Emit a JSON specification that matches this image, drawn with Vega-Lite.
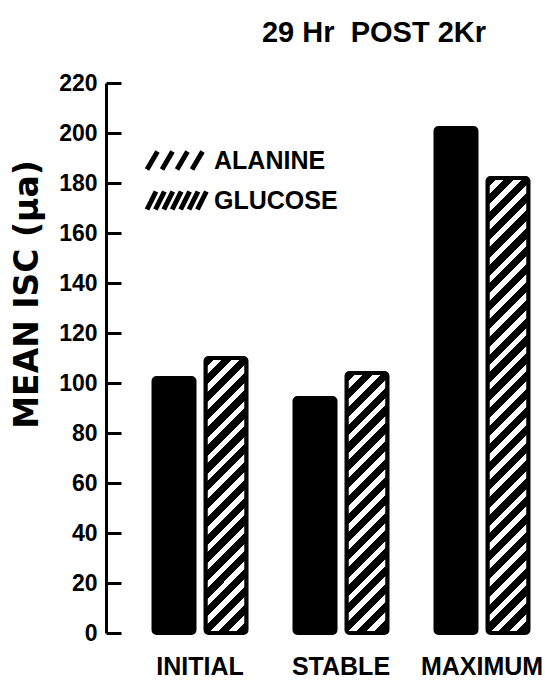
{
  "$schema": "https://vega.github.io/schema/vega-lite/v6.json",
  "autosize": "none",
  "width": 406,
  "height": 550,
  "padding": {"left": 138, "top": 83, "right": 1, "bottom": 49},
  "background": "white",
  "title": {
    "text": "29 Hr\u00a0 POST 2Kr",
    "font": "Liberation Sans",
    "fontSize": 29,
    "fontWeight": "bold",
    "color": "black",
    "anchor": "middle",
    "dx": 33,
    "offset": 24
  },
  "config": {
    "view": {"stroke": null}
  },
  "data": {
    "values": [
      {"stage": "INITIAL", "substrate": "GLUCOSE", "isc": 102},
      {"stage": "INITIAL", "substrate": "ALANINE", "isc": 110},
      {"stage": "STABLE", "substrate": "GLUCOSE", "isc": 94},
      {"stage": "STABLE", "substrate": "ALANINE", "isc": 104},
      {"stage": "MAXIMUM", "substrate": "GLUCOSE", "isc": 202},
      {"stage": "MAXIMUM", "substrate": "ALANINE", "isc": 182}
    ]
  },
  "encoding": {
    "x": {
      "field": "stage",
      "type": "nominal",
      "sort": ["INITIAL", "STABLE", "MAXIMUM"],
      "scale": {"paddingInner": 0.3404, "paddingOuter": 0.11},
      "axis": {
        "title": null,
        "domain": false,
        "ticks": false,
        "labelAngle": 0,
        "labelPadding": 21,
        "labelFont": "Liberation Sans",
        "labelFontSize": 25,
        "labelFontWeight": "bold",
        "labelColor": "black",
        "labelBaseline": "top"
      }
    },
    "xOffset": {
      "field": "substrate",
      "type": "nominal",
      "sort": ["GLUCOSE", "ALANINE"],
      "scale": {"paddingInner": 0.2115, "paddingOuter": 0}
    },
    "y": {
      "field": "isc",
      "type": "quantitative",
      "scale": {"domain": [0, 220], "nice": false},
      "axis": {
        "title": "MEAN ISC (μa)",
        "titleFont": "DejaVu Sans",
        "titleFontSize": 33,
        "titleFontWeight": "bold",
        "titleColor": "black",
        "titleAngle": -90,
        "titleAlign": "center",
        "titleBaseline": "middle",
        "titleX": -79,
        "titleY": 211,
        "values": [0, 20, 40, 60, 80, 100, 120, 140, 160, 180, 200, 220],
        "offset": 32,
        "grid": false,
        "domainColor": "black",
        "domainWidth": 3,
        "tickColor": "black",
        "tickWidth": 3,
        "tickSize": -15,
        "labelPadding": 24,
        "labelFont": "Liberation Sans",
        "labelFontSize": 23,
        "labelFontWeight": "bold",
        "labelColor": "black"
      }
    }
  },
  "layer": [
    {
      "mark": {"type": "bar", "strokeWidth": 4, "cornerRadius": 3, "stroke": "black"},
      "encoding": {
        "fill": {
          "condition": [
            {"test": "datum.substrate === 'GLUCOSE'", "value": "black"},
            {"test": "datum.stage === 'INITIAL'", "value": {"gradient": "linear", "x1": 0, "y1": 0, "x2": 0.2652, "y2": 1.7786, "stops": [
              {"offset": 0, "color": "black"},
              {"offset": 0.0207, "color": "black"}, {"offset": 0.0207, "color": "white"}, {"offset": 0.0357, "color": "white"}, {"offset": 0.0357, "color": "black"},
              {"offset": 0.0564, "color": "black"}, {"offset": 0.0564, "color": "white"}, {"offset": 0.0714, "color": "white"}, {"offset": 0.0714, "color": "black"},
              {"offset": 0.0921, "color": "black"}, {"offset": 0.0921, "color": "white"}, {"offset": 0.1071, "color": "white"}, {"offset": 0.1071, "color": "black"},
              {"offset": 0.1279, "color": "black"}, {"offset": 0.1279, "color": "white"}, {"offset": 0.1429, "color": "white"}, {"offset": 0.1429, "color": "black"},
              {"offset": 0.1636, "color": "black"}, {"offset": 0.1636, "color": "white"}, {"offset": 0.1786, "color": "white"}, {"offset": 0.1786, "color": "black"},
              {"offset": 0.1993, "color": "black"}, {"offset": 0.1993, "color": "white"}, {"offset": 0.2143, "color": "white"}, {"offset": 0.2143, "color": "black"},
              {"offset": 0.2350, "color": "black"}, {"offset": 0.2350, "color": "white"}, {"offset": 0.2500, "color": "white"}, {"offset": 0.2500, "color": "black"},
              {"offset": 0.2707, "color": "black"}, {"offset": 0.2707, "color": "white"}, {"offset": 0.2857, "color": "white"}, {"offset": 0.2857, "color": "black"},
              {"offset": 0.3064, "color": "black"}, {"offset": 0.3064, "color": "white"}, {"offset": 0.3214, "color": "white"}, {"offset": 0.3214, "color": "black"},
              {"offset": 0.3421, "color": "black"}, {"offset": 0.3421, "color": "white"}, {"offset": 0.3571, "color": "white"}, {"offset": 0.3571, "color": "black"},
              {"offset": 0.3779, "color": "black"}, {"offset": 0.3779, "color": "white"}, {"offset": 0.3929, "color": "white"}, {"offset": 0.3929, "color": "black"},
              {"offset": 0.4136, "color": "black"}, {"offset": 0.4136, "color": "white"}, {"offset": 0.4286, "color": "white"}, {"offset": 0.4286, "color": "black"},
              {"offset": 0.4493, "color": "black"}, {"offset": 0.4493, "color": "white"}, {"offset": 0.4643, "color": "white"}, {"offset": 0.4643, "color": "black"},
              {"offset": 0.4850, "color": "black"}, {"offset": 0.4850, "color": "white"}, {"offset": 0.5000, "color": "white"}, {"offset": 0.5000, "color": "black"},
              {"offset": 0.5207, "color": "black"}, {"offset": 0.5207, "color": "white"}, {"offset": 0.5357, "color": "white"}, {"offset": 0.5357, "color": "black"},
              {"offset": 0.5564, "color": "black"}, {"offset": 0.5564, "color": "white"}, {"offset": 0.5714, "color": "white"}, {"offset": 0.5714, "color": "black"},
              {"offset": 0.5921, "color": "black"}, {"offset": 0.5921, "color": "white"}, {"offset": 0.6071, "color": "white"}, {"offset": 0.6071, "color": "black"},
              {"offset": 0.6279, "color": "black"}, {"offset": 0.6279, "color": "white"}, {"offset": 0.6429, "color": "white"}, {"offset": 0.6429, "color": "black"},
              {"offset": 1, "color": "black"}
            ]}},
            {"test": "datum.stage === 'STABLE'", "value": {"gradient": "linear", "x1": 0, "y1": 0, "x2": 0.2959, "y2": 1.8764, "stops": [
              {"offset": 0, "color": "black"},
              {"offset": 0.0207, "color": "black"}, {"offset": 0.0207, "color": "white"}, {"offset": 0.0357, "color": "white"}, {"offset": 0.0357, "color": "black"},
              {"offset": 0.0564, "color": "black"}, {"offset": 0.0564, "color": "white"}, {"offset": 0.0714, "color": "white"}, {"offset": 0.0714, "color": "black"},
              {"offset": 0.0921, "color": "black"}, {"offset": 0.0921, "color": "white"}, {"offset": 0.1071, "color": "white"}, {"offset": 0.1071, "color": "black"},
              {"offset": 0.1279, "color": "black"}, {"offset": 0.1279, "color": "white"}, {"offset": 0.1429, "color": "white"}, {"offset": 0.1429, "color": "black"},
              {"offset": 0.1636, "color": "black"}, {"offset": 0.1636, "color": "white"}, {"offset": 0.1786, "color": "white"}, {"offset": 0.1786, "color": "black"},
              {"offset": 0.1993, "color": "black"}, {"offset": 0.1993, "color": "white"}, {"offset": 0.2143, "color": "white"}, {"offset": 0.2143, "color": "black"},
              {"offset": 0.2350, "color": "black"}, {"offset": 0.2350, "color": "white"}, {"offset": 0.2500, "color": "white"}, {"offset": 0.2500, "color": "black"},
              {"offset": 0.2707, "color": "black"}, {"offset": 0.2707, "color": "white"}, {"offset": 0.2857, "color": "white"}, {"offset": 0.2857, "color": "black"},
              {"offset": 0.3064, "color": "black"}, {"offset": 0.3064, "color": "white"}, {"offset": 0.3214, "color": "white"}, {"offset": 0.3214, "color": "black"},
              {"offset": 0.3421, "color": "black"}, {"offset": 0.3421, "color": "white"}, {"offset": 0.3571, "color": "white"}, {"offset": 0.3571, "color": "black"},
              {"offset": 0.3779, "color": "black"}, {"offset": 0.3779, "color": "white"}, {"offset": 0.3929, "color": "white"}, {"offset": 0.3929, "color": "black"},
              {"offset": 0.4136, "color": "black"}, {"offset": 0.4136, "color": "white"}, {"offset": 0.4286, "color": "white"}, {"offset": 0.4286, "color": "black"},
              {"offset": 0.4493, "color": "black"}, {"offset": 0.4493, "color": "white"}, {"offset": 0.4643, "color": "white"}, {"offset": 0.4643, "color": "black"},
              {"offset": 0.4850, "color": "black"}, {"offset": 0.4850, "color": "white"}, {"offset": 0.5000, "color": "white"}, {"offset": 0.5000, "color": "black"},
              {"offset": 0.5207, "color": "black"}, {"offset": 0.5207, "color": "white"}, {"offset": 0.5357, "color": "white"}, {"offset": 0.5357, "color": "black"},
              {"offset": 0.5564, "color": "black"}, {"offset": 0.5564, "color": "white"}, {"offset": 0.5714, "color": "white"}, {"offset": 0.5714, "color": "black"},
              {"offset": 0.5921, "color": "black"}, {"offset": 0.5921, "color": "white"}, {"offset": 0.6071, "color": "white"}, {"offset": 0.6071, "color": "black"},
              {"offset": 1, "color": "black"}
            ]}}
          ],
          "value": {"gradient": "linear", "x1": 0, "y1": 0, "x2": 0.0982, "y2": 1.09, "stops": [
              {"offset": 0, "color": "black"},
              {"offset": 0.0207, "color": "black"}, {"offset": 0.0207, "color": "white"}, {"offset": 0.0357, "color": "white"}, {"offset": 0.0357, "color": "black"},
              {"offset": 0.0564, "color": "black"}, {"offset": 0.0564, "color": "white"}, {"offset": 0.0714, "color": "white"}, {"offset": 0.0714, "color": "black"},
              {"offset": 0.0921, "color": "black"}, {"offset": 0.0921, "color": "white"}, {"offset": 0.1071, "color": "white"}, {"offset": 0.1071, "color": "black"},
              {"offset": 0.1279, "color": "black"}, {"offset": 0.1279, "color": "white"}, {"offset": 0.1429, "color": "white"}, {"offset": 0.1429, "color": "black"},
              {"offset": 0.1636, "color": "black"}, {"offset": 0.1636, "color": "white"}, {"offset": 0.1786, "color": "white"}, {"offset": 0.1786, "color": "black"},
              {"offset": 0.1993, "color": "black"}, {"offset": 0.1993, "color": "white"}, {"offset": 0.2143, "color": "white"}, {"offset": 0.2143, "color": "black"},
              {"offset": 0.2350, "color": "black"}, {"offset": 0.2350, "color": "white"}, {"offset": 0.2500, "color": "white"}, {"offset": 0.2500, "color": "black"},
              {"offset": 0.2707, "color": "black"}, {"offset": 0.2707, "color": "white"}, {"offset": 0.2857, "color": "white"}, {"offset": 0.2857, "color": "black"},
              {"offset": 0.3064, "color": "black"}, {"offset": 0.3064, "color": "white"}, {"offset": 0.3214, "color": "white"}, {"offset": 0.3214, "color": "black"},
              {"offset": 0.3421, "color": "black"}, {"offset": 0.3421, "color": "white"}, {"offset": 0.3571, "color": "white"}, {"offset": 0.3571, "color": "black"},
              {"offset": 0.3779, "color": "black"}, {"offset": 0.3779, "color": "white"}, {"offset": 0.3929, "color": "white"}, {"offset": 0.3929, "color": "black"},
              {"offset": 0.4136, "color": "black"}, {"offset": 0.4136, "color": "white"}, {"offset": 0.4286, "color": "white"}, {"offset": 0.4286, "color": "black"},
              {"offset": 0.4493, "color": "black"}, {"offset": 0.4493, "color": "white"}, {"offset": 0.4643, "color": "white"}, {"offset": 0.4643, "color": "black"},
              {"offset": 0.4850, "color": "black"}, {"offset": 0.4850, "color": "white"}, {"offset": 0.5000, "color": "white"}, {"offset": 0.5000, "color": "black"},
              {"offset": 0.5207, "color": "black"}, {"offset": 0.5207, "color": "white"}, {"offset": 0.5357, "color": "white"}, {"offset": 0.5357, "color": "black"},
              {"offset": 0.5564, "color": "black"}, {"offset": 0.5564, "color": "white"}, {"offset": 0.5714, "color": "white"}, {"offset": 0.5714, "color": "black"},
              {"offset": 0.5921, "color": "black"}, {"offset": 0.5921, "color": "white"}, {"offset": 0.6071, "color": "white"}, {"offset": 0.6071, "color": "black"},
              {"offset": 0.6279, "color": "black"}, {"offset": 0.6279, "color": "white"}, {"offset": 0.6429, "color": "white"}, {"offset": 0.6429, "color": "black"},
              {"offset": 0.6636, "color": "black"}, {"offset": 0.6636, "color": "white"}, {"offset": 0.6786, "color": "white"}, {"offset": 0.6786, "color": "black"},
              {"offset": 0.6993, "color": "black"}, {"offset": 0.6993, "color": "white"}, {"offset": 0.7143, "color": "white"}, {"offset": 0.7143, "color": "black"},
              {"offset": 0.7350, "color": "black"}, {"offset": 0.7350, "color": "white"}, {"offset": 0.7500, "color": "white"}, {"offset": 0.7500, "color": "black"},
              {"offset": 0.7707, "color": "black"}, {"offset": 0.7707, "color": "white"}, {"offset": 0.7857, "color": "white"}, {"offset": 0.7857, "color": "black"},
              {"offset": 0.8064, "color": "black"}, {"offset": 0.8064, "color": "white"}, {"offset": 0.8214, "color": "white"}, {"offset": 0.8214, "color": "black"},
              {"offset": 0.8421, "color": "black"}, {"offset": 0.8421, "color": "white"}, {"offset": 0.8571, "color": "white"}, {"offset": 0.8571, "color": "black"},
              {"offset": 0.8779, "color": "black"}, {"offset": 0.8779, "color": "white"}, {"offset": 0.8929, "color": "white"}, {"offset": 0.8929, "color": "black"},
              {"offset": 0.9136, "color": "black"}, {"offset": 0.9136, "color": "white"}, {"offset": 0.9286, "color": "white"}, {"offset": 0.9286, "color": "black"},
              {"offset": 0.9493, "color": "black"}, {"offset": 0.9493, "color": "white"}, {"offset": 0.9643, "color": "white"}, {"offset": 0.9643, "color": "black"},
              {"offset": 1, "color": "black"}
          ]}
        }
      }
    },
    {
      "mark": {"type": "point", "filled": false, "opacity": 0, "strokeWidth": 5, "color": "black"},
      "encoding": {
        "shape": {
          "field": "substrate",
          "type": "nominal",
          "scale": {
            "domain": ["ALANINE", "GLUCOSE"],
            "range": [
              "M-0.9,0.6L-0.2,-0.6M0.1,0.6L0.8,-0.6M1.1,0.6L1.8,-0.6M2.1,0.6L2.8,-0.6",
              "M-0.9,0.6L-0.3,-0.6M-0.34,0.6L0.26,-0.6M0.22,0.6L0.82,-0.6M0.78,0.6L1.38,-0.6M1.34,0.6L1.94,-0.6M1.9,0.6L2.5,-0.6M2.46,0.6L3.06,-0.6"
            ]
          },
          "legend": {
            "title": null,
            "orient": "none",
            "legendX": 5,
            "legendY": 60,
            "padding": 0,
            "symbolSize": 900,
            "symbolStrokeWidth": 5,
            "symbolOpacity": 1,
            "symbolStrokeColor": "black",
            "symbolFillColor": "transparent",
            "labelOffset": 36,
            "rowPadding": 1,
            "labelFont": "Liberation Sans",
            "labelFontSize": 25,
            "labelFontWeight": "bold",
            "labelColor": "black"
          }
        }
      }
    }
  ]
}
